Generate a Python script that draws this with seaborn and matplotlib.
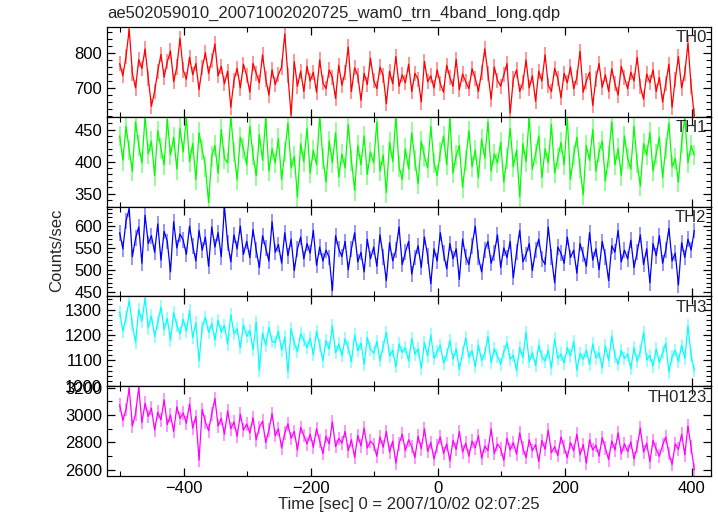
import numpy as np
import matplotlib
matplotlib.use("Agg")
import matplotlib.pyplot as plt
from matplotlib.ticker import MultipleLocator
import seaborn as sns

# light curve, 5 s bins starting at -501 s
T_START = -501
T_STEP = 5

th0 = [770, 735, 790, 868, 742, 700, 781, 756, 812, 728,
       648, 690, 748, 796, 731, 775, 806, 718, 760, 842,
       752, 725, 788, 738, 770, 695, 758, 801, 742, 779,
       826, 735, 762, 712, 748, 645, 722, 756, 700, 768,
       735, 688, 770, 742, 715, 795, 726, 680, 752, 710,
       738, 760, 855, 735, 622, 775, 705, 748, 690, 762,
       720, 745, 688, 780, 715, 698, 752, 730, 670, 765,
       708, 745, 817, 690, 758, 736, 665, 742, 710, 785,
       722, 698, 760, 735, 655, 748, 712, 790, 705, 738,
       715, 768, 690, 742, 725, 660, 776, 718, 735, 700,
       752, 712, 688, 765, 730, 705, 782, 695, 740, 718,
       698, 755, 728, 690, 745, 812, 742, 668, 760, 722,
       705, 738, 770, 628, 726, 752, 690, 715, 780, 700,
       735, 662, 748, 720, 795, 708, 690, 756, 728, 672,
       742, 715, 760, 698, 730, 805, 688, 720, 745, 650,
       726, 770, 702, 738, 690, 755, 712, 680, 762, 730,
       698, 745, 720, 788, 705, 668, 740, 715, 752, 690,
       730, 660, 712, 768, 645, 725, 790, 700, 742, 828,
       705, 620]

th1 = [440, 402, 455, 418, 385, 462, 425, 398, 470, 412,
       432, 378, 448, 420, 395, 466, 410, 438, 388, 452,
       415, 470, 400, 428, 372, 445, 418, 392, 336, 408,
       425, 382, 450, 405, 398, 470, 415, 372, 438, 420,
       395, 455, 410, 378, 442, 402, 468, 385, 420, 398,
       436, 372, 415, 460, 390, 408, 345, 428, 400, 452,
       382, 418, 395, 470, 405, 368, 432, 398, 445, 376,
       412, 390, 458, 402, 355, 425, 395, 440, 380, 415,
       398, 462, 385, 410, 352, 430, 400, 470, 392, 372,
       420, 388, 445, 402, 365, 432, 408, 390, 455, 398,
       378, 415, 440, 395, 468, 382, 410, 425, 360, 402,
       448, 392, 418, 375, 435, 405, 462, 385, 412, 398,
       430, 368, 405, 452, 392, 418, 345, 428, 400, 470,
       388, 412, 440, 375, 420, 398, 458, 382, 405, 430,
       395, 468, 372, 410, 438, 390, 348, 425, 402, 450,
       385, 415, 432, 370, 408, 462, 395, 420, 378, 440,
       405, 388, 455, 398, 362, 428, 410, 445, 385, 412,
       438, 375, 420, 460, 392, 405, 368, 430, 470, 398,
       425, 410]

th2 = [585, 548, 612, 640, 530, 572, 598, 515, 625, 560,
       578, 540, 605, 522, 588, 565, 495, 610, 550, 582,
       568, 535, 600, 555, 520, 590, 545, 575, 508, 598,
       552, 585, 530, 645, 562, 518, 580, 548, 600, 535,
       565, 528, 592, 545, 505, 578, 550, 520, 610, 540,
       558, 515, 585, 532, 570, 498, 548, 575, 525, 560,
       538, 590, 510, 552, 520, 545, 528, 452, 578, 548,
       530, 565, 500, 548, 585, 518, 540, 495, 570, 525,
       552, 508, 580, 530, 475, 562, 520, 545, 598, 512,
       540, 565, 490, 528, 555, 505, 575, 532, 468, 548,
       520, 585, 538, 502, 560, 525, 548, 478, 570, 530,
       512, 555, 600, 528, 495, 545, 565, 515, 538, 580,
       505, 550, 528, 565, 482, 540, 590, 518, 535, 560,
       498, 545, 570, 525, 512, 598, 530, 470, 552, 538,
       515, 575, 528, 545, 492, 560, 535, 508, 585, 522,
       548, 500, 565, 530, 475, 555, 540, 590, 518, 545,
       525, 568, 505, 540, 580, 512, 548, 470, 560, 532,
       578, 515, 545, 595, 520, 538, 465, 562, 528, 570,
       545, 590]

th3 = [1290, 1215, 1268, 1335, 1240, 1172, 1300, 1255, 1345, 1228,
       1275, 1195, 1250, 1310, 1222, 1265, 1180, 1288, 1238, 1205,
       1262, 1215, 1295, 1190, 1248, 1098, 1230, 1270, 1210, 1245,
       1180, 1258, 1212, 1238, 1165, 1280, 1205, 1225, 1150, 1240,
       1195, 1218, 1142, 1250, 1062, 1208, 1160, 1230, 1175, 1170,
       1215, 1140, 1192, 1055, 1225, 1168, 1135, 1205, 1180, 1150,
       1188, 1122, 1215, 1160, 1098, 1178, 1145, 1235, 1130, 1165,
       1120, 1185, 1150, 1095, 1200, 1138, 1168, 1085, 1190, 1145,
       1128, 1175, 1100, 1155, 1210, 1118, 1140, 1075, 1165, 1132,
       1150, 1098, 1185, 1125, 1145, 1070, 1170, 1118, 1200, 1108,
       1135, 1160, 1090, 1122, 1178, 1105, 1145, 1065, 1130, 1188,
       1112, 1138, 1075, 1160, 1100, 1128, 1195, 1092, 1145, 1118,
       1085, 1135, 1170, 1105, 1120, 1060, 1150, 1112, 1210, 1095,
       1130, 1080, 1160, 1115, 1098, 1140, 1070, 1185, 1108, 1125,
       1090, 1150, 1118, 1175, 1062, 1128, 1105, 1140, 1085, 1165,
       1110, 1130, 1072, 1158, 1100, 1195, 1118, 1085, 1140, 1108,
       1125, 1068, 1150, 1098, 1135, 1210, 1102, 1120, 1078, 1145,
       1092, 1130, 1168, 1055, 1115, 1140, 1095, 1160, 1108, 1235,
       1120, 1060]

th0123 = [3075, 2960, 3040, 3195, 2920, 3010, 3200, 2945, 3085, 2990,
          3050, 2890, 3020, 2965, 3110, 2930, 3000, 2880, 3060, 2975,
          3015, 2940, 3080, 2905, 2990, 2672, 3040, 2950, 2885, 3010,
          3120, 2920, 2975, 2860, 3030, 2900, 2950, 2845, 3005, 2890,
          2935, 2870, 2980, 2820, 2910, 2955, 2800, 2890, 3010, 2850,
          2900, 2760, 2870, 2935, 2830, 2880, 2745, 2910, 2850, 2790,
          2860, 2765, 2900, 2810, 2720, 2845, 2790, 2950, 2770, 2830,
          2795, 2880, 2740, 2820, 2690, 2850, 2775, 2905, 2760, 2810,
          2785, 2700, 2840, 2765, 2880, 2730, 2810, 2650, 2790, 2860,
          2740, 2820, 2770, 2690, 2845, 2755, 2900, 2735, 2800, 2680,
          2775, 2840, 2720, 2790, 2665, 2815, 2750, 2880, 2730, 2795,
          2700, 2810, 2760, 2850, 2685, 2775, 2740, 2900, 2720, 2790,
          2755, 2670, 2830, 2745, 2800, 2715, 2870, 2760, 2690, 2820,
          2740, 2785, 2660, 2815, 2750, 2890, 2725, 2770, 2705, 2840,
          2765, 2690, 2800, 2740, 2860, 2710, 2785, 2650, 2820, 2745,
          2780, 2700, 2835, 2760, 2675, 2810, 2745, 2870, 2720, 2790,
          2735, 2805, 2680, 2770, 2905, 2730, 2795, 2660, 2815, 2750,
          2700, 2780, 2840, 2720, 2640, 2790, 2750, 2860, 2710, 2920,
          2765, 2600]

bands = ["TH0", "TH1", "TH2", "TH3", "TH0123"]
series = [th0, th1, th2, th3, th0123]
errors = [22, 16, 18, 26, 50]
colors = ["#ff0000", "#00ff00", "#0000ff", "#00ffff", "#ff00ff"]
ylims = [(618, 875), (330, 470), (439, 645), (999, 1352), (2556, 3210)]
major = [100, 50, 50, 100, 200]
minor = [20, 10, 10, 20, 100]

sns.set_style("ticks")
plt.rcParams["font.family"] = ["Liberation Sans", "DejaVu Sans"]
FS = 12

fig, axes = plt.subplots(5, 1, sharex=True, figsize=(7.18, 5.16), dpi=100)
fig.subplots_adjust(left=0.149, right=0.990, top=0.948, bottom=0.0775, hspace=0)

for ax, name, vals, err, col, yl, mj, mn in zip(axes, bands, series, errors,
                                                colors, ylims, major, minor):
    vals = np.array(vals, dtype=float)
    t = T_START + T_STEP * np.arange(len(vals))
    # error bars in a lighter tone, then the rate itself
    ax.vlines(t, vals - err, vals + err, color=col, alpha=0.45, lw=1.3)
    sns.lineplot(x=t, y=vals, ax=ax, color=col, lw=0.9)
    ax.set_ylim(*yl)
    ax.set_xlim(-521, 430)
    ax.yaxis.set_major_locator(MultipleLocator(mj))
    ax.yaxis.set_minor_locator(MultipleLocator(mn))
    ax.xaxis.set_major_locator(MultipleLocator(200))
    ax.xaxis.set_minor_locator(MultipleLocator(100))
    ax.tick_params(which="both", direction="in", top=True, right=True,
                   colors="black", labelsize=FS)
    ax.tick_params(which="major", length=6, width=0.9)
    ax.tick_params(which="minor", length=3.5, width=0.8)
    for s in ax.spines.values():
        s.set_linewidth(0.9)
        s.set_color("black")
    ax.set_ylabel("")
    ax.text(0.993, 0.96, name, ha="right", va="top", transform=ax.transAxes,
            fontsize=FS)

axes[-1].set_xlabel("Time [sec] 0 = 2007/10/02 02:07:25", fontsize=FS,
                    labelpad=1)
fig.text(0.079, 0.515, "Counts/sec", rotation=90, ha="center", va="center",
         fontsize=FS)
fig.text(0.149, 0.96, "ae502059010_20071002020725_wam0_trn_4band_long.qdp",
         ha="left", va="bottom", fontsize=FS)

fig.savefig("out.png", dpi=100)
